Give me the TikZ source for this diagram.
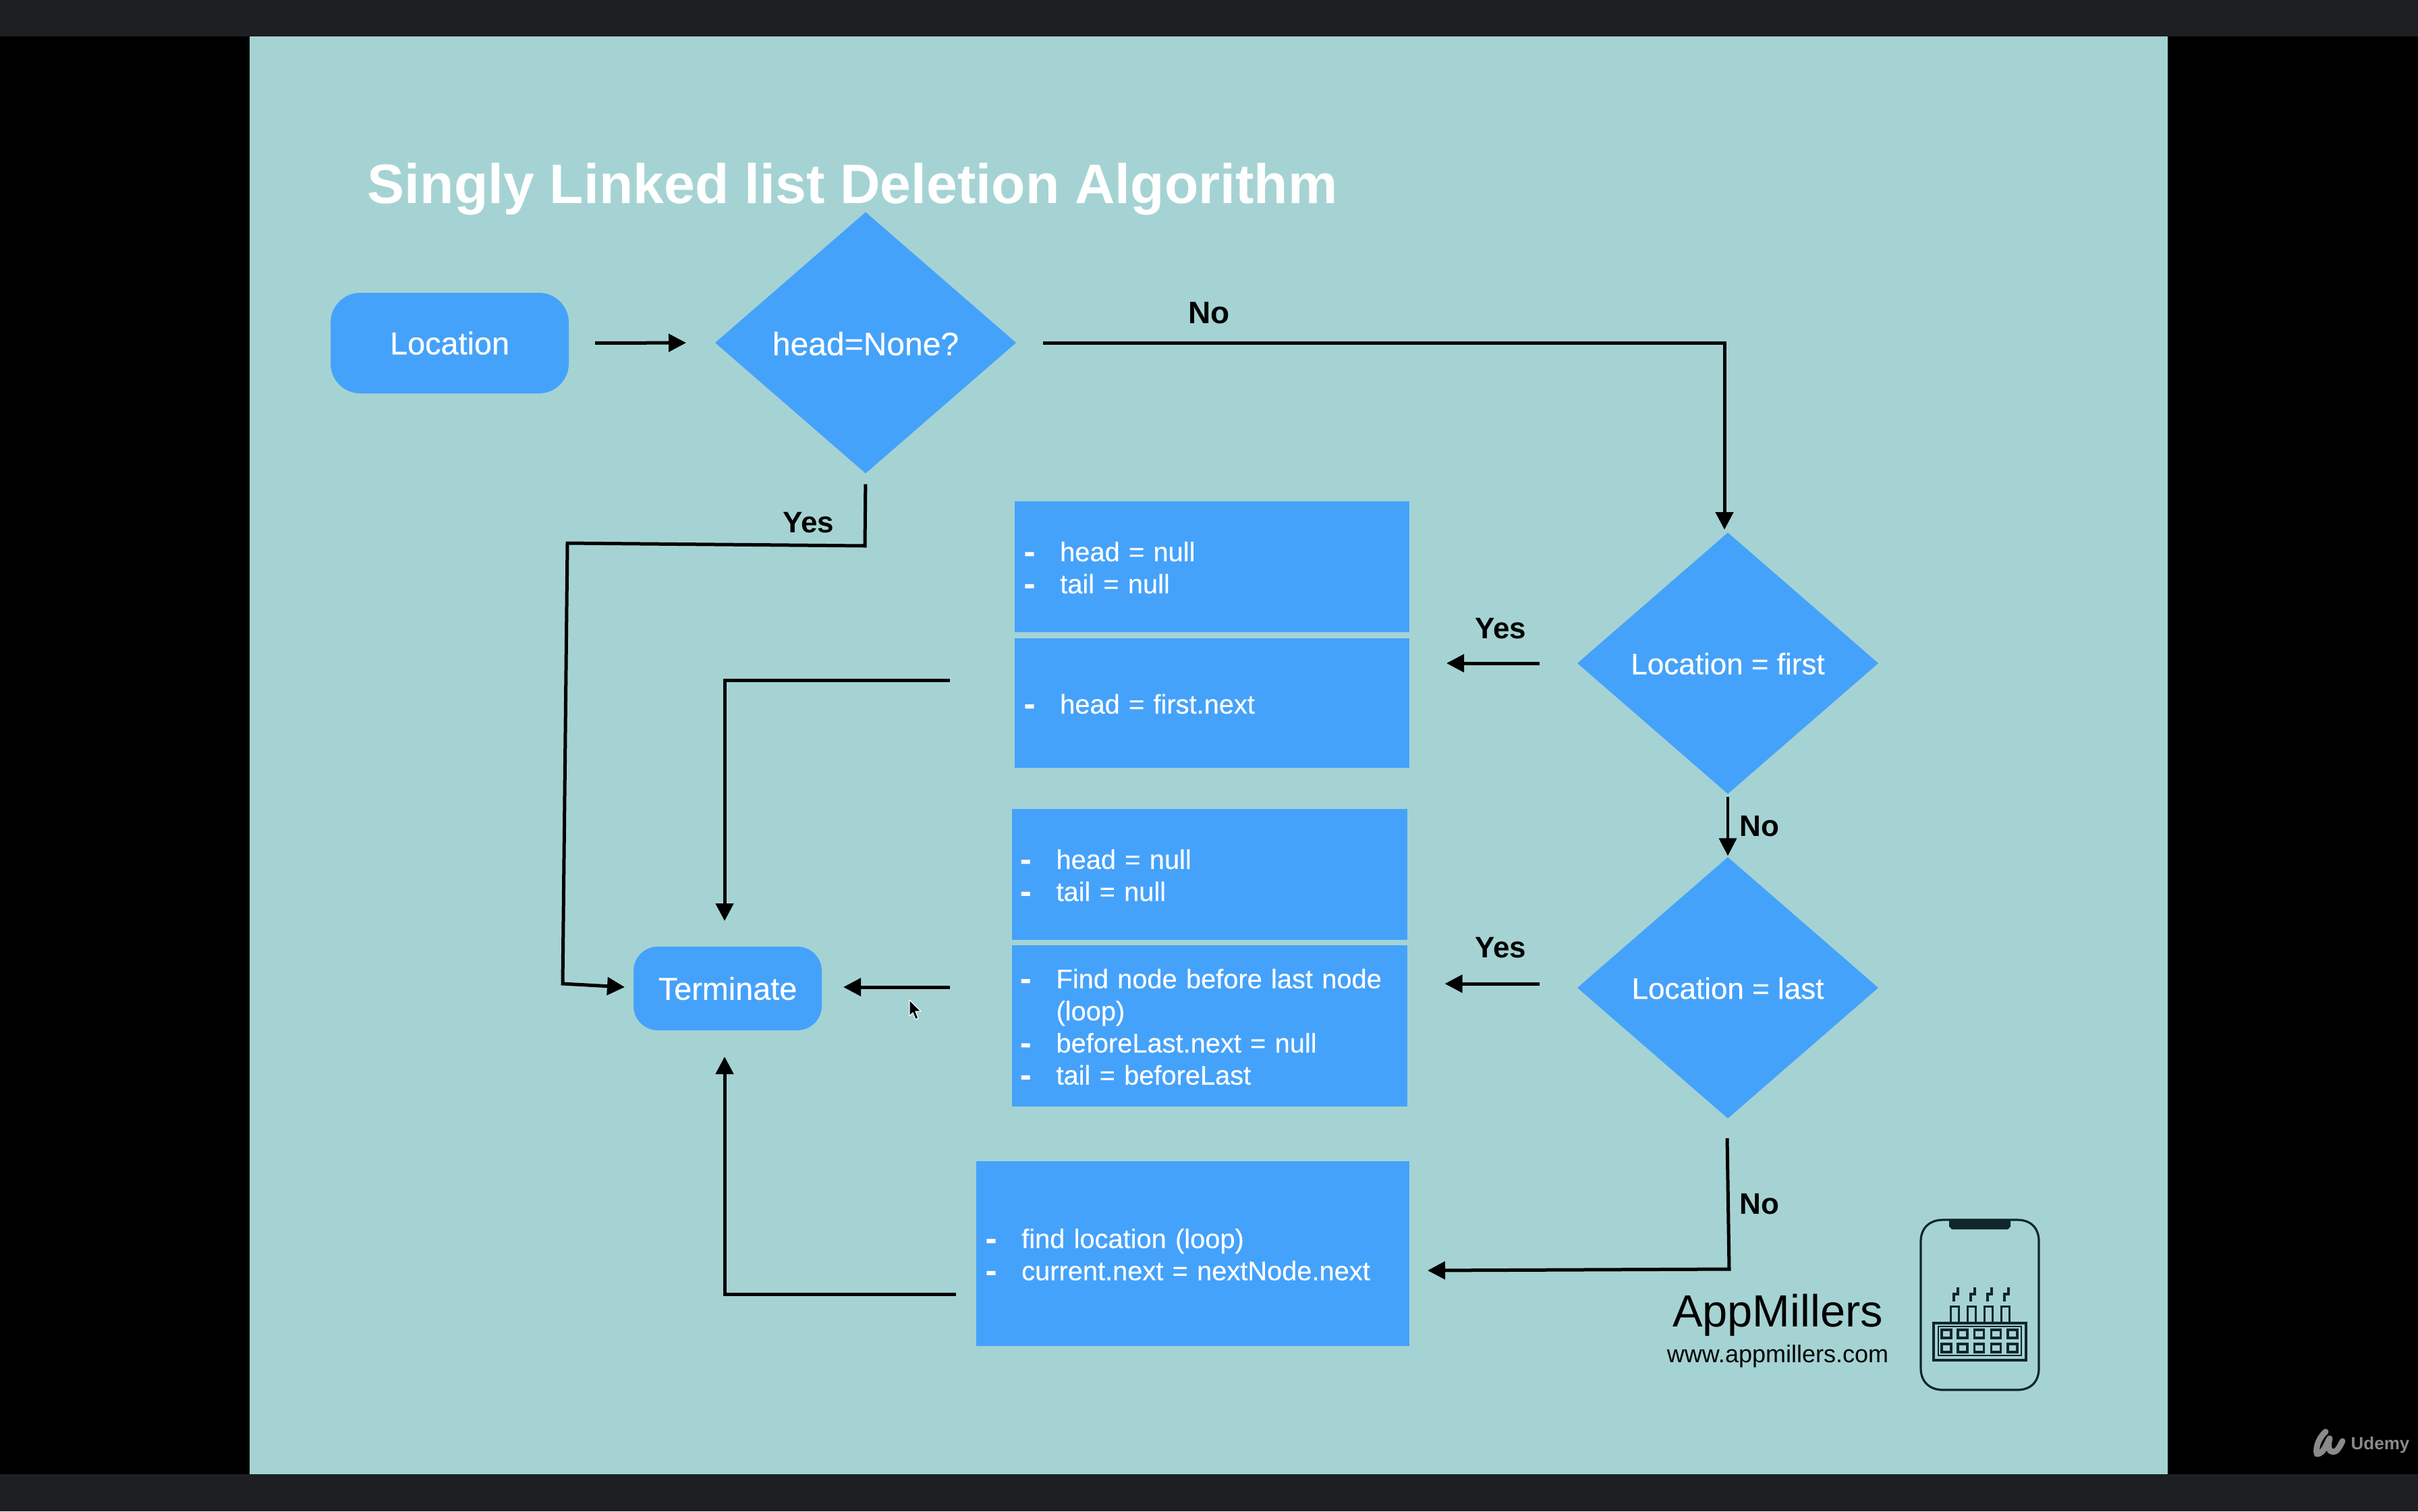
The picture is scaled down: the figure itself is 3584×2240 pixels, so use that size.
\documentclass[tikz,border=0pt]{standalone}
\usepackage{fontspec}
\setmainfont{Liberation Sans}
\newfontfamily\whitefont[FakeBold=0.35]{Liberation Sans}
\usetikzlibrary{shapes.geometric,arrows.meta}
\definecolor{slidebg}{HTML}{A5D3D3}
\definecolor{flowblue}{HTML}{45A2FA}
\definecolor{barcol}{HTML}{1E1F22}
\definecolor{markgrey}{HTML}{8A8A8A}
\definecolor{iconink}{HTML}{10262B}
\newcommand{\fsz}[1]{\fontsize{#1}{#1}\selectfont}
\newcommand{\li}[1]{\par\hangindent=13.4pt\hangafter=1\noindent\makebox[13.4pt][l]{\raisebox{-0.6pt}{\fontsize{12.5}{12.5}\selectfont\bfseries -}}#1}
\newcommand{\lend}{\par\nointerlineskip\vbox to 3.5pt{}}
\tikzset{
  x=0.25pt,y=-0.25pt,
  terminal/.style={draw=none,fill=flowblue,rounded corners=11pt,text=white,inner sep=0pt,outer sep=0pt,font=\whitefont\fsz{11.7}},
  decision/.style={diamond,draw=none,fill=flowblue,text=white,inner sep=0pt,outer sep=0pt,minimum width=111.5pt,minimum height=96.8pt,aspect=1.15,text height=10.2pt,text depth=2pt,font=\whitefont\fsz{11}},
  listbox/.style 2 args={rectangle,draw=none,fill=flowblue,text=white,outer sep=0pt,inner ysep=0pt,inner xsep=#2,minimum width=#1,text width=#1-2*#2,align=left,font=\whitefont\fontsize{9.95}{11.9}\selectfont},
  flow/.style={line width=1.25pt,black,-{Triangle[length=6.5pt,width=6.5pt]},line join=miter},
  lab/.style={inner sep=0pt,outer sep=0pt,font=\fsz{11}\bfseries,text=black},
  ink/.style={draw=iconink,line width=0.8pt,fill=none}
}
\begin{document}
\begin{tikzpicture}
\useasboundingbox (0,0) rectangle (3584,2240);
% screen
\fill[black] (0,0) rectangle (3584,2240);
\fill[barcol] (0,0) rectangle (3584,54);
\fill[barcol] (0,2185) rectangle (3584,2240);
\fill[slidebg] (370,54) rectangle (3213,2185);
% title
\node[anchor=west,inner sep=0pt,text=white,font=\fsz{20.6}\bfseries] (title) at (544,280) {Singly Linked list Deletion Algorithm};
% nodes
\node[terminal,minimum width=88.25pt,minimum height=37.25pt] (loc) at (666.5,508.5) {Location};
\node[decision,font=\whitefont\fsz{12},text height=11.2pt] (dhead) at (1283,508) {head=None?};
\node[decision] (dfirst) at (2561,983) {Location = first};
\node[decision] (dlast) at (2561,1464) {Location = last};
\node[terminal,minimum width=69.75pt,minimum height=31pt,rounded corners=9pt] (term) at (1078.5,1465) {Terminate};
\node[listbox={146.25pt}{3.4pt},minimum height=48.5pt] (b1) at (1796.5,840) {\li{head = null}\li{tail = null}\lend};
\node[listbox={146.25pt}{3.4pt},minimum height=48pt] (b2) at (1796.5,1042) {\li{head = first.next}\lend};
\node[listbox={146.5pt}{3.1pt},minimum height=48.5pt] (b3) at (1792.5,1296) {\li{head = null}\li{tail = null}\lend};
\node[listbox={146.5pt}{3.1pt},minimum height=59.75pt] (b4) at (1792.5,1520.5) {\li{Find node before last node (loop)}\li{beforeLast.next = null}\li{tail = beforeLast}\lend};
\node[listbox={160.5pt}{3.4pt},minimum height=68.5pt] (b5) at (1768,1858) {\li{find location (loop)}\li{current.next = nextNode.next}\lend};
% free corners
\coordinate (c1) at (2556,508);
\coordinate (c2a) at (1282,809);
\coordinate (c2b) at (841,805);
\coordinate (c2c) at (834,1458);
\coordinate (c3) at (1074,1008);
\coordinate (c4a) at (1408,1008);
\coordinate (c5) at (2563,1881);
\coordinate (c5a) at (2560,1687);
\coordinate (c5b) at (2116,1883);
\coordinate (c6a) at (1417,1918);
\coordinate (c6) at (1074,1918);
\coordinate (t1) at (1074,1365);
\coordinate (t2) at (1074,1566);
\coordinate (t3) at (926,1463);
\coordinate (d1) at (2556,785);
% connectors
\draw[flow,shorten <=9.75pt,shorten >=10.75pt] (loc.east) -- (dhead.west);
\draw[flow,shorten <=10pt] (dhead.east |- dhead) -- (c1) -- (d1);
\draw[flow,shorten <=4pt] (dhead.south) -- (c2a) -- (c2b) -- (c2c) -- (t3);
\draw[flow,shorten <=14pt,shorten >=13.75pt] (dfirst.west) -- (dfirst.west -| b2.east);
\draw[flow] (c4a) -- (c3) -- (t1);
\draw[flow,line width=0.9pt,shorten <=1pt,shorten >=0.5pt] (dfirst.south) -- (dlast.north);
\draw[flow,shorten <=14pt,shorten >=14pt] (dlast.west |- 0,1458) -- (b4.east |- 0,1458);
\draw[flow,shorten <=23pt,shorten >=8pt] (b4.west |- 0,1463) -- (term.east |- 0,1463);
\draw[flow] (c5a) -- (c5) -- (c5b);
\draw[flow] (c6a) -- (c6) -- (t2);
% labels
\node[lab,font=\fsz{11.5}\bfseries] (nohead) at (1792,464) {No};
\node[lab] (yeshead) at (1198,775) {Yes};
\node[lab] (yesfirst) at (2224,932) {Yes};
\node[lab] (nofirst) at (2608,1225) {No};
\node[lab] (yeslast) at (2224,1405) {Yes};
\node[lab] (nolast) at (2608,1785) {No};
% brand
\node[inner sep=0pt,text=black,font=\fsz{16.7}] (brand) at (2635,1949) {AppMillers};
\node[inner sep=0pt,text=black,font=\fsz{9}] (url) at (2635,2010) {www.appmillers.com};
% phone icon
\draw[ink] (2847,1840) .. controls (2847,1820) and (2860,1808) .. (2880,1808) -- (2990,1808) .. controls (3010,1808) and (3022,1820) .. (3022,1840) -- (3022,2028) .. controls (3022,2048) and (3010,2060) .. (2990,2060) -- (2880,2060) .. controls (2860,2060) and (2847,2048) .. (2847,2028) -- cycle;
\fill[iconink] (2889,1808) -- (2980,1808) -- (2980,1818) -- (2976,1822) -- (2893,1822) -- (2889,1818) -- cycle;
\draw[ink] (2866,1961) rectangle (3003,2016);
\draw[ink,line width=0.5pt] (2873,1966) rectangle (2996,2009);
\foreach \cx in {2885,2909,2933.5,2958.5,2983}{
  \foreach \cy in {1977,1998}{
    \draw[ink,line width=0.95pt] (\cx-7,\cy-6) rectangle (\cx+7,\cy+6);
  }
}
\foreach \cx in {2897,2922,2947,2972}{
  \draw[ink,line width=0.75pt] (\cx-6,1961) -- (\cx-6,1936) -- (\cx+6,1936) -- (\cx+6,1961);
  \draw[ink,line width=0.95pt] (\cx-1,1929) -- (\cx-1,1918) -- (\cx+5,1918) -- (\cx+5,1908);
}
% cursor
\draw[white,fill=black,line width=0.3pt,line join=round] (1348,1482) -- (1348,1506) -- (1353,1501) -- (1357,1511) -- (1361,1509) -- (1357,1499) -- (1365,1499) -- cycle;
% udemy mark
\draw[markgrey,line width=2.2pt,line cap=round,line join=round] (3447,2122) .. controls (3436,2132) and (3432,2146) .. (3434,2155) .. controls (3444,2155) and (3448,2140) .. (3453,2132) .. controls (3450,2144) and (3452,2152) .. (3458,2152) .. controls (3464,2152) and (3468,2144) .. (3472,2136);
\node[inner sep=0pt,text=markgrey,font=\fsz{6.5}\bfseries] (udemy) at (3528,2142) {Udemy};
\end{tikzpicture}
\end{document}
